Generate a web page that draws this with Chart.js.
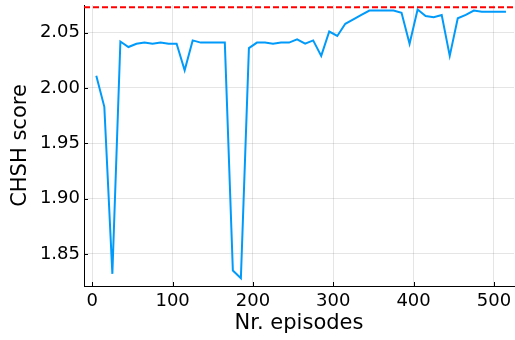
<!DOCTYPE html>
<html>
<head>
<meta charset="utf-8">
<script src="https://cdn.jsdelivr.net/npm/chart.js@4"></script>
<style>
  body { margin: 0; background: #fff; }
  #wrap { width: 515px; height: 340px; }
</style>
</head>
<body>
<div id="wrap"><canvas id="chart" width="515" height="340"></canvas></div>
<script>
const episodes = [5, 15, 25, 35, 45, 55, 65, 75, 85, 95, 105, 115, 125, 135, 145, 155, 165, 175, 185, 195,
  205, 215, 225, 235, 245, 255, 265, 275, 285, 295, 305, 315, 325, 335, 345, 355, 365, 375, 385, 395,
  405, 415, 425, 435, 445, 455, 465, 475, 485, 495, 505, 515];
const chshScore = [2.011, 1.983, 1.832, 2.042, 2.037, 2.040, 2.041, 2.040, 2.041, 2.040,
  2.040, 2.016, 2.043, 2.041, 2.041, 2.041, 2.041, 1.835, 1.828, 2.036,
  2.041, 2.041, 2.040, 2.041, 2.041, 2.044, 2.040, 2.043, 2.029, 2.051,
  2.047, 2.058, 2.062, 2.066, 2.070, 2.070, 2.070, 2.070, 2.068, 2.040,
  2.071, 2.065, 2.064, 2.066, 2.029, 2.063, 2.066, 2.070, 2.069, 2.069,
  2.069, 2.069];
const boundValue = 2.073;
const xTicks = [0, 100, 200, 300, 400, 500];
const yTicks = [1.85, 1.90, 1.95, 2.00, 2.05];
const xRange = [-10.3, 525];
const yRange = [1.821, 2.075];

const font = "'DejaVu Sans', sans-serif";

// small tick marks pointing into the plot, like the original
const innerTicks = {
  id: 'innerTicks',
  afterDraw(chart) {
    const ctx = chart.ctx;
    const area = chart.chartArea;
    const xs = chart.scales.x;
    const ys = chart.scales.y;
    ctx.save();
    ctx.strokeStyle = '#000';
    ctx.lineWidth = 1;
    ctx.beginPath();
    xTicks.forEach(v => {
      const px = Math.round(xs.getPixelForValue(v)) + 0.5;
      ctx.moveTo(px, area.bottom);
      ctx.lineTo(px, area.bottom - 4);
    });
    yTicks.forEach(v => {
      const py = Math.round(ys.getPixelForValue(v)) + 0.5;
      ctx.moveTo(area.left, py);
      ctx.lineTo(area.left + 4, py);
    });
    ctx.stroke();
    ctx.restore();
  }
};

const ctx = document.getElementById('chart').getContext('2d');
new Chart(ctx, {
  type: 'line',
  data: {
    datasets: [
      {
        label: 'CHSH score',
        data: episodes.map((e, i) => ({ x: e, y: chshScore[i] })),
        borderColor: '#009AFA',
        borderWidth: 2,
        pointRadius: 0,
        tension: 0,
        fill: false,
      },
      {
        label: 'bound',
        data: [{ x: xRange[0], y: boundValue }, { x: xRange[1], y: boundValue }],
        borderColor: '#FF0000',
        borderWidth: 2,
        borderDash: [6, 3],
        pointRadius: 0,
        fill: false,
      },
    ],
  },
  options: {
    responsive: false,
    animation: false,
    devicePixelRatio: 1,
    layout: { padding: { top: 5, right: 1, left: 0, bottom: 0 } },
    plugins: {
      legend: { display: false },
      tooltip: { enabled: false },
    },
    scales: {
      x: {
        type: 'linear',
        min: xRange[0],
        max: xRange[1],
        afterBuildTicks: s => { s.ticks = xTicks.map(v => ({ value: v })); },
        afterFit: s => { s.height = 54; s.paddingLeft = 0; s.paddingRight = 0; },
        grid: { color: 'rgba(0,0,0,0.1)', drawTicks: false },
        border: { color: '#000', width: 1 },
        ticks: { color: '#000', font: { family: font, size: 18 }, padding: 5, maxRotation: 0 },
        title: { display: true, text: 'Nr. episodes', color: '#000', font: { family: font, size: 21 }, padding: { top: 0, bottom: 4 } },
      },
      y: {
        min: yRange[0],
        max: yRange[1],
        afterBuildTicks: s => { s.ticks = yTicks.map(v => ({ value: v })); },
        afterFit: s => { s.width = 84; s.paddingTop = 0; s.paddingBottom = 0; },
        grid: { color: 'rgba(0,0,0,0.1)', drawTicks: false },
        border: { color: '#000', width: 1 },
        ticks: { color: '#000', font: { family: font, size: 18 }, padding: 4, callback: v => v.toFixed(2) },
        title: { display: true, text: 'CHSH score', color: '#000', font: { family: font, size: 21 }, padding: { top: 8, bottom: 0 } },
      },
    },
  },
  plugins: [innerTicks],
});
</script>
</body>
</html>
